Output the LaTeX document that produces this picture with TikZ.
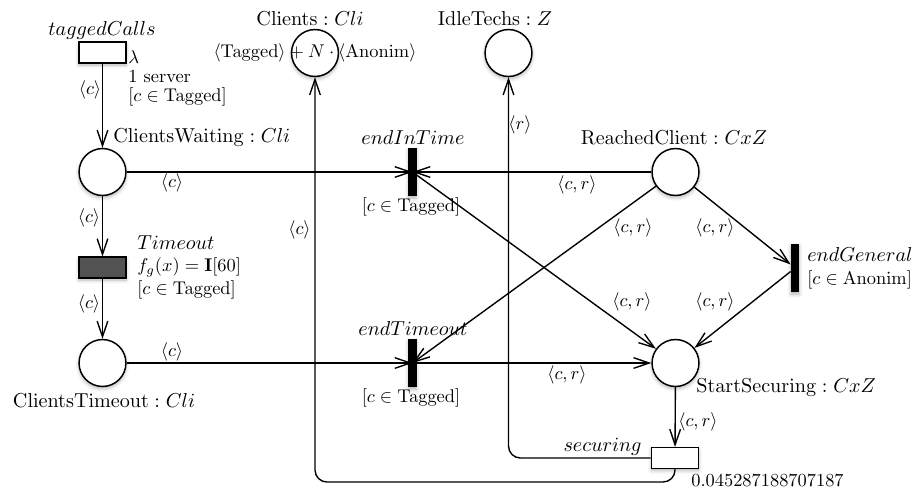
\documentclass[tikz,border=0pt]{standalone}
\usetikzlibrary{arrows.meta,shadows.blur}
\begin{document}
\begin{tikzpicture}[x=0.5435pt,y=-0.5435pt,
  soft/.style={blur shadow={shadow xshift=0pt,shadow yshift=-1.2pt,shadow blur radius=2pt,shadow opacity=30}},
  place/.style={circle,draw,line width=0.8pt,fill=white,minimum size=25.5pt,inner sep=0pt,soft},
  timed/.style={rectangle,draw,line width=0.8pt,fill=white,minimum width=25.6pt,minimum height=11.2pt,inner sep=0pt,soft},
  timeoutbox/.style={timed,fill=black!68},
  bar/.style={rectangle,fill=black,minimum width=4.4pt,minimum height=26pt,inner sep=0pt,soft},
  arc/.style={line width=0.75pt,-{Straight Barb[length=8.5pt,width=5.8pt]}},
  lbl/.style={inner sep=0pt},
  title/.style={inner sep=0pt,font=\fontsize{11}{13}\selectfont},
]
\useasboundingbox (0,0) rectangle (916,493);

% places and transitions
\node[timed] (tc) at (102.5,52.5) {};
\node[place] (cw) at (102.5,172) {};
\node[timeoutbox] (to) at (102.5,267.5) {};
\node[place] (ct) at (102.5,363) {};
\node[place] (cl) at (315,53) {};
\node[place] (it) at (508.5,53) {};
\node[bar] (eit) at (412.5,172) {};
\node[bar] (et) at (412.5,363) {};
\node[place] (rc) at (675.5,172) {};
\node[bar] (eg) at (795,268) {};
\node[place] (ss) at (675.5,363) {};
\node[timed] (sec) at (675,458) {};
\coordinate (loop) at (cl.south |- 0,482);

% arcs
\draw[arc] (tc) -- (cw);
\draw[arc] (cw) -- (eit.center);
\draw[arc] (rc) -- (eit.center);
\draw[arc] (cw) -- (to);
\draw[arc] (to) -- (ct);
\draw[arc] (ct) -- (et.center);
\draw[arc] (eit.center) -- (ss);
\draw[arc] (rc) -- (et.center);
\draw[arc] (rc) -- (eg);
\draw[arc] (eg) -- (ss);
\draw[arc] (et.center) -- (ss);
\draw[arc] (ss) -- (sec);
\draw[arc,rounded corners=6.5pt] (sec.west) -| (it.south);
\draw[arc,rounded corners=6.5pt] (sec.south) |- (loop) -- (cl.south);

% place names and markings
\node[title] (clname) at (310,18) {$\mathrm{Clients}:Cli$};
\node[lbl] (clmark) at (315,53) {$\langle\mathrm{Tagged}\rangle+N\cdot\langle\mathrm{Anonim}\rangle$};
\node[title] (itname) at (495,18) {$\mathrm{IdleTechs}:Z$};
\node[title,anchor=west] (cwname) at (113,137) {$\mathrm{ClientsWaiting}:Cli$};
\node[title] (ctname) at (104,400) {$\mathrm{ClientsTimeout}:Cli$};
\node[title] (rcname) at (674,137) {$\mathrm{ReachedClient}:CxZ$};
\node[title,anchor=west] (ssname) at (696,388) {$\mathrm{StartSecuring}:CxZ$};

% transition names, rates and guards
\node[title] (tcname) at (102,30) {$taggedCalls$};
\node[lbl,anchor=west] (tcrate) at (128,57) {$\lambda$};
\node[lbl,anchor=west] (tcsrv) at (128,76) {1 server};
\node[lbl,anchor=west] (tcguard) at (128,97) {$[c\in\mathrm{Tagged}]$};
\node[title,anchor=west] (toname) at (137,243) {$Timeout$};
\node[lbl,anchor=west] (todist) at (137,267) {$f_g(x)=\mathbf{I}[60]$};
\node[lbl,anchor=west] (toguard) at (137,290) {$[c\in\mathrm{Tagged}]$};
\node[title] (eitname) at (413,137) {$endInTime$};
\node[lbl] (eitguard) at (411,207) {$[c\in\mathrm{Tagged}]$};
\node[title] (etname) at (413,328) {$endTimeout$};
\node[lbl] (etguard) at (411,398) {$[c\in\mathrm{Tagged}]$};
\node[title,anchor=west] (egname) at (807,254) {$endGeneral$};
\node[lbl,anchor=west] (egguard) at (807,280) {$[c\in\mathrm{Anonim}]$};
\node[title,anchor=east] (secname) at (642,447) {$securing$};
\node[lbl,anchor=west] (secrate) at (691,480) {0.045287188707187};

% arc inscriptions
\node[lbl] (a1) at (90,90) {$\langle c\rangle$};
\node[lbl] (a2) at (172,183) {$\langle c\rangle$};
\node[lbl] (a3) at (89,218) {$\langle c\rangle$};
\node[lbl] (a4) at (89,304) {$\langle c\rangle$};
\node[lbl] (a5) at (172,352) {$\langle c\rangle$};
\node[lbl,anchor=east] (a6) at (311,230) {$\langle c\rangle$};
\node[lbl] (a7) at (520,125) {$\langle r\rangle$};
\node[lbl] (a8) at (577,185) {$\langle c,r\rangle$};
\node[lbl] (a9) at (633,228) {$\langle c,r\rangle$};
\node[lbl] (a10) at (715,228) {$\langle c,r\rangle$};
\node[lbl] (a11) at (632,302) {$\langle c,r\rangle$};
\node[lbl] (a12) at (715,302) {$\langle c,r\rangle$};
\node[lbl] (a13) at (567,375) {$\langle c,r\rangle$};
\node[lbl] (a14) at (698,422) {$\langle c,r\rangle$};
\end{tikzpicture}
\end{document}
